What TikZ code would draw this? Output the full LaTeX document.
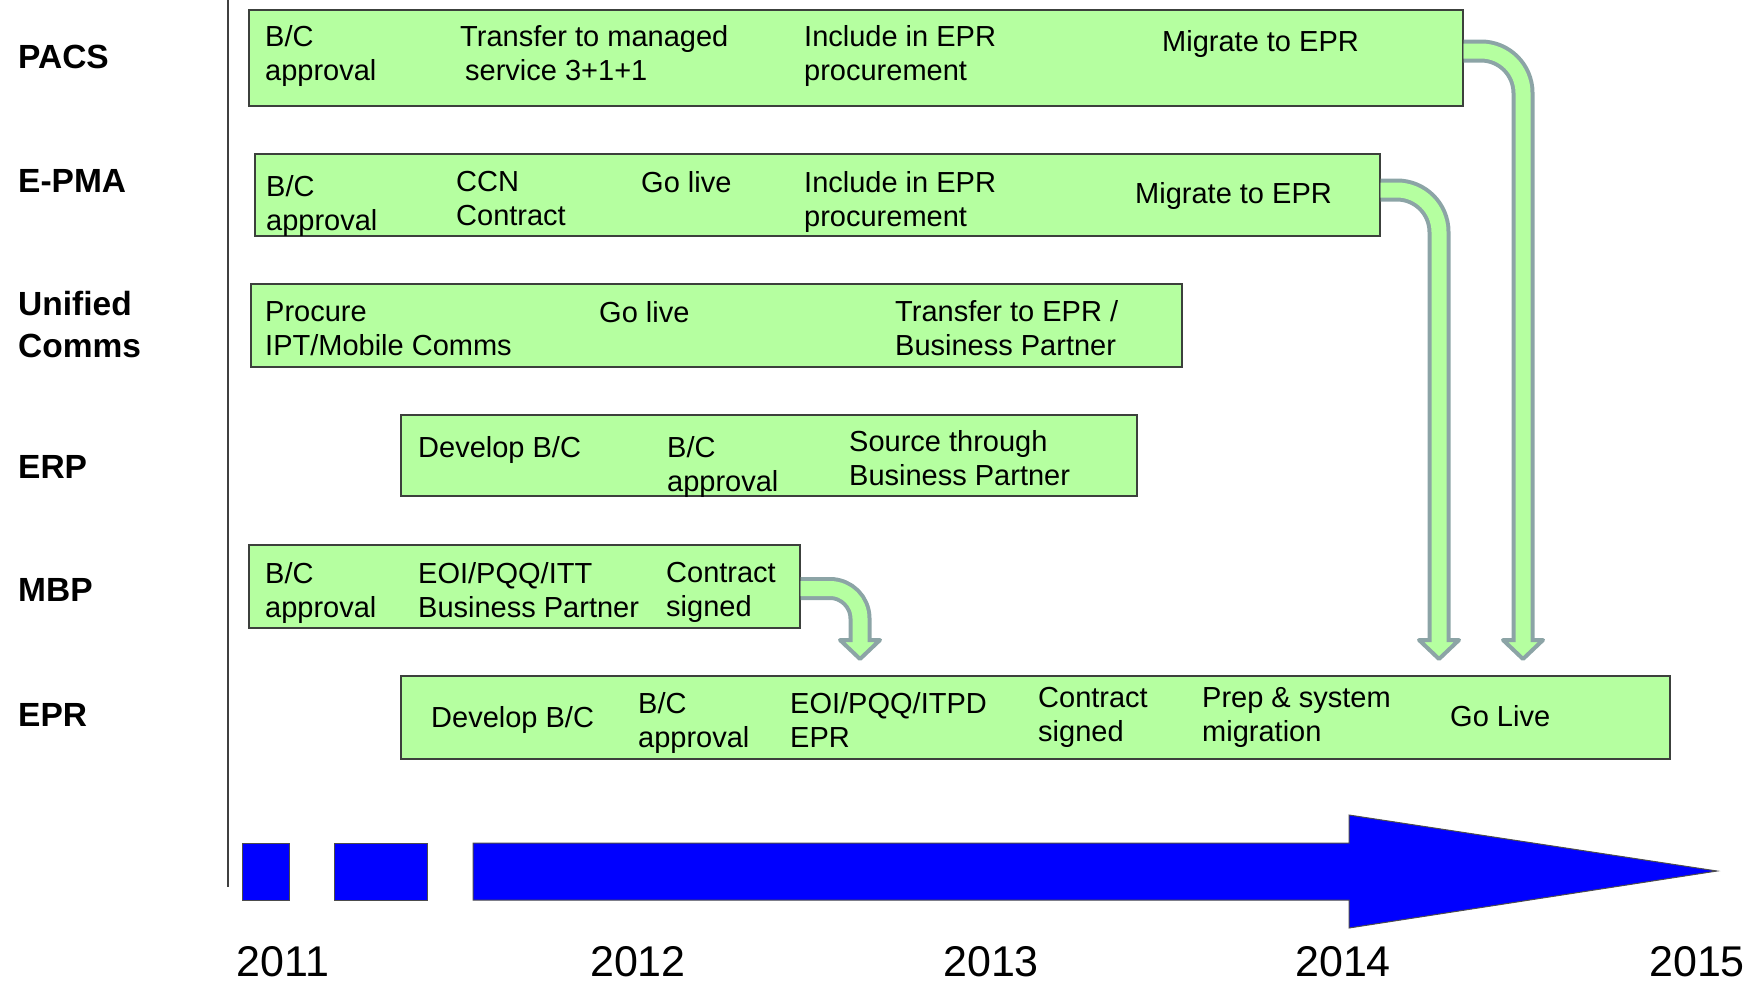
\documentclass[tikz,border=0pt]{standalone}
\usepackage{fontspec}
\setmainfont{Liberation Sans}
\usetikzlibrary{calc}
\definecolor{barfill}{RGB}{181,255,160}
\definecolor{barline}{RGB}{60,64,60}
\definecolor{arrgray}{RGB}{140,164,166}
\definecolor{tblue}{RGB}{0,0,255}
\begin{document}
\begin{tikzpicture}[x=1pt,y=-1pt,
  bar/.style={draw=barline,line width=1.5pt,fill=barfill,anchor=north west,inner sep=0pt},
  txt/.style={anchor=north west,inner sep=0pt,align=left,font=\fontsize{29}{34.5}\selectfont},
  rowlab/.style={inner sep=0pt,align=left,font=\bfseries\fontsize{33.5}{42}\selectfont},
  year/.style={anchor=base,inner sep=0pt,font=\fontsize{43}{50}\selectfont},
  shaftout/.style={draw=arrgray,line width=23pt},
  shaftin/.style={draw=barfill,line width=15pt},
  head/.style={fill=barfill,draw=arrgray,line width=4pt,line join=round},
  tblock/.style={fill=tblue,draw=black!70,line width=1pt}]
\useasboundingbox (0,0) rectangle (1760,983);

% vertical divider
\draw[black!75,line width=1.5pt] (228,0) -- (228,887);

% row labels
\node[rowlab,anchor=west] (lpacs) at (18,57) {PACS};
\node[rowlab,anchor=west] (lepma) at (18,181) {E-PMA};
\node[rowlab,anchor=north west] (luc) at (18,291) {Unified\\Comms};
\node[rowlab,anchor=west] (lerp) at (18,467) {ERP};
\node[rowlab,anchor=west] (lmbp) at (18,590) {MBP};
\node[rowlab,anchor=west] (lepr) at (18,715) {EPR};

% bars
\node[bar,minimum width=1214pt,minimum height=96pt] (pacs) at (248,9) {};
\node[bar,minimum width=1125pt,minimum height=82pt] (epma) at (254,153) {};
\node[bar,minimum width=931pt,minimum height=83pt] (uc) at (250,283) {};
\node[bar,minimum width=736pt,minimum height=81pt] (erp) at (400,414) {};
\node[bar,minimum width=551pt,minimum height=83pt] (mbp) at (248,544) {};
\node[bar,minimum width=1269pt,minimum height=83pt] (epr) at (400,675) {};

% PACS texts
\node[txt] (p1) at (265,25) {B/C\\approval};
\node[txt] (p2) at (460,25) {Transfer to managed\\\hspace*{5pt}service 3+1+1};
\node[txt] (p3) at (804,25) {Include in EPR\\procurement};
\node[txt] (p4) at (1162,30) {Migrate to EPR};

% E-PMA texts
\node[txt] (e1) at (266,175) {B/C\\approval};
\node[txt] (e2) at (456,171) {CCN\\Contract};
\node[txt] (e3) at (641,171) {Go live};
\node[txt] (e4) at (804,171) {Include in EPR\\procurement};
\node[txt] (e5) at (1135,182) {Migrate to EPR};

% Unified Comms texts
\node[txt] (u1) at (265,301) {Procure\\IPT/Mobile Comms};
\node[txt] (u2) at (599,301) {Go live};
\node[txt] (u3) at (895,300) {Transfer to EPR /\\Business Partner};

% ERP texts
\node[txt] (r1) at (418,436) {Develop B/C};
\node[txt] (r2) at (667,436) {B/C\\approval};
\node[txt] (r3) at (849,430) {Source through\\Business Partner};

% MBP texts
\node[txt] (m1) at (265,562) {B/C\\approval};
\node[txt] (m2) at (418,562) {EOI/PQQ/ITT\\Business Partner};
\node[txt] (m3) at (666,562) {Contract\\signed};

% EPR texts
\node[txt] (x1) at (431,706) {Develop B/C};
\node[txt] (x2) at (638,692) {B/C\\approval};
\node[txt] (x3) at (790,692) {EOI/PQQ/ITPD\\EPR};
\node[txt] (x4) at (1038,687) {Contract\\signed};
\node[txt] (x5) at (1202,687) {Prep \& system\\migration};
\node[txt] (x6) at (1450,705) {Go Live};

% bent arrows
\coordinate (a1) at ($(pacs.north east)+(0,42)$);
\coordinate (a1e) at (1523,640);
\coordinate (a2) at ($(epma.north east)+(0,37)$);
\coordinate (a2e) at (1439,640);
\coordinate (a3) at ($(mbp.north east)+(0,44.5)$);
\coordinate (a3e) at (860,640);

\draw[shaftout,rounded corners=42pt] (a1) -| (a1e);
\draw[shaftout,rounded corners=42pt] (a2) -| (a2e);
\draw[shaftout,rounded corners=30pt] (a3) -| (a3e);
\draw[head] ($(a1e)+(-20,0)$) -- ($(a1e)+(20,0)$) -- ($(a1e)+(0,19)$) -- cycle;
\draw[head] ($(a2e)+(-20,0)$) -- ($(a2e)+(20,0)$) -- ($(a2e)+(0,19)$) -- cycle;
\draw[head] ($(a3e)+(-20,0)$) -- ($(a3e)+(20,0)$) -- ($(a3e)+(0,19)$) -- cycle;
\draw[shaftin,rounded corners=42pt] (a1) -| ($(a1e)+(0,4)$);
\draw[shaftin,rounded corners=42pt] (a2) -| ($(a2e)+(0,4)$);
\draw[shaftin,rounded corners=30pt] (a3) -| ($(a3e)+(0,4)$);

% timeline
\draw[tblock] (242,843) rectangle (289,900);
\draw[tblock] (334,843) rectangle (427,900);
\draw[tblock] (473,843) -- (1349,843) -- (1349,815) -- (1717,871) -- (1349,928) -- (1349,900) -- (473,900) -- cycle;

\node[year] (y1) at (283,976) {2011};
\node[year] (y2) at (638,976) {2012};
\node[year] (y3) at (991,976) {2013};
\node[year] (y4) at (1343,976) {2014};
\node[year] (y5) at (1697,976) {2015};
\end{tikzpicture}
\end{document}
